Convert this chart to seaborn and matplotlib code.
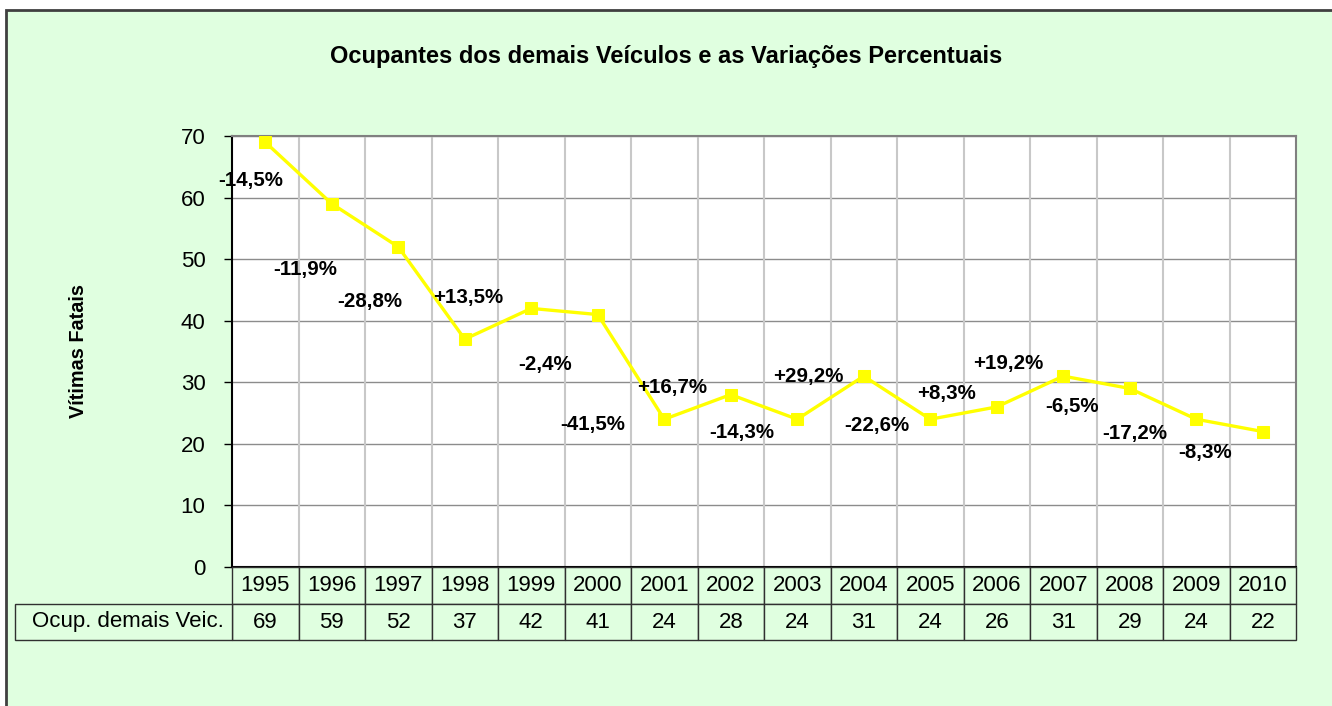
import matplotlib
matplotlib.use("Agg")
import matplotlib.pyplot as plt
import seaborn as sns
import numpy as np
from matplotlib.patches import Rectangle

# dados
anos = ["1995", "1996", "1997", "1998", "1999", "2000", "2001", "2002",
        "2003", "2004", "2005", "2006", "2007", "2008", "2009", "2010"]
ocupantes = [69, 59, 52, 37, 42, 41, 24, 28, 24, 31, 24, 26, 31, 29, 24, 22]
variacoes = ["-14,5%", "-11,9%", "-28,8%", "+13,5%", "-2,4%", "-41,5%", "+16,7%",
             "-14,3%", "+29,2%", "-22,6%", "+8,3%", "+19,2%", "-6,5%", "-17,2%", "-8,3%"]
serie = "Ocup. demais Veic."

# deslocamento (pixels) de cada rótulo em relação ao ponto do ano anterior
desloc = [(-15, -38), (-27, -66), (-28, -55), (3, 42), (14, -56), (-5, -110),
          (8, 32), (11, -38), (11, 43), (13, -49), (16, 26), (11, 43),
          (9, -30), (5, -45), (9, -33)]

sns.set_theme(style="white")
plt.rcParams["font.family"] = ["Liberation Sans", "DejaVu Sans"]

W, H = 1332, 706
fig = plt.figure(figsize=(W / 100, H / 100), dpi=100)
fig.patch.set_facecolor("white")
verde = "#E0FFE0"
fig.patches.append(Rectangle((6 / W, -0.1), 1.2, 1 - 10 / H + 0.1, transform=fig.transFigure,
                             facecolor=verde, edgecolor="#404040", lw=2, zorder=-10))

ax_l, ax_r, ax_t, ax_b = 232, 1296, 136, 567
ax = fig.add_axes([ax_l / W, 1 - ax_b / H, (ax_r - ax_l) / W, (ax_b - ax_t) / H])
ax.set_facecolor("white")

x = np.arange(len(anos))
sns.lineplot(x=x, y=ocupantes, ax=ax, color="#FFFF00", linewidth=2.4, marker="s",
             markersize=9, markeredgecolor="#FFFF00", zorder=5)

ax.set_xlim(-0.5, len(anos) - 0.5)
ax.set_ylim(0, 70)
ax.set_yticks(range(0, 71, 10))
ax.set_xticks([])
for v in range(10, 71, 10):
    ax.axhline(v, color="#8C8C8C", lw=1, zorder=1)
for i in range(len(anos) - 1):
    ax.axvline(i + 0.5, color="#C8C8C8", lw=1.5, zorder=1)

for s in ["top", "right"]:
    ax.spines[s].set_color("#808080")
    ax.spines[s].set_linewidth(1.5)
for s in ["left", "bottom"]:
    ax.spines[s].set_color("black")
    ax.spines[s].set_linewidth(1.5)
ax.tick_params(axis="y", left=True, length=6, width=1, color="black",
               labelsize=16, pad=13, direction="out", labelcolor="black")

for i, txt in enumerate(variacoes):
    ax.annotate(txt, xy=(x[i], ocupantes[i]), xytext=desloc[i], textcoords="offset pixels",
                ha="center", va="center", fontsize=14.8, fontweight="bold", color="black",
                zorder=6)

ax.set_ylabel("Vítimas Fatais", fontsize=14.3, fontweight="bold", color="black")
ax.yaxis.set_label_coords((88 - ax_l) / (ax_r - ax_l), 0.5)

# tabela de dados (x em unidades de categoria, y em fração do eixo)
trans = ax.get_xaxis_transform()
h_ax = ax_b - ax_t
y_anos = (-37 / h_ax, 0)
y_vals = (-73 / h_ax, -37 / h_ax)
cor_borda = "#303030"


def celula(x0, x1, y0, y1, texto, ha="center"):
    ax.add_patch(Rectangle((x0, y0), x1 - x0, y1 - y0, transform=trans, clip_on=False,
                           facecolor=verde, edgecolor=cor_borda, lw=1, zorder=3))
    tx = (x0 + x1) / 2 if ha == "center" else x1 - 0.12
    ax.text(tx, (y0 + y1) / 2, texto, transform=trans, ha=ha, va="center",
            fontsize=16, color="black", clip_on=False, zorder=4)


for i, (ano, val) in enumerate(zip(anos, ocupantes)):
    celula(i - 0.5, i + 0.5, *y_anos, ano)
    celula(i - 0.5, i + 0.5, *y_vals, str(val))
celula(-0.5 - (ax_l - 15) / 66.5, -0.5, *y_vals, serie, ha="right")

fig.text(0.5, 1 - 57 / H, "Ocupantes dos demais Veículos e as Variações Percentuais",
         ha="center", va="center", fontsize=17, fontweight="bold", color="black")

fig.savefig("out.png", dpi=100, facecolor=fig.get_facecolor())
